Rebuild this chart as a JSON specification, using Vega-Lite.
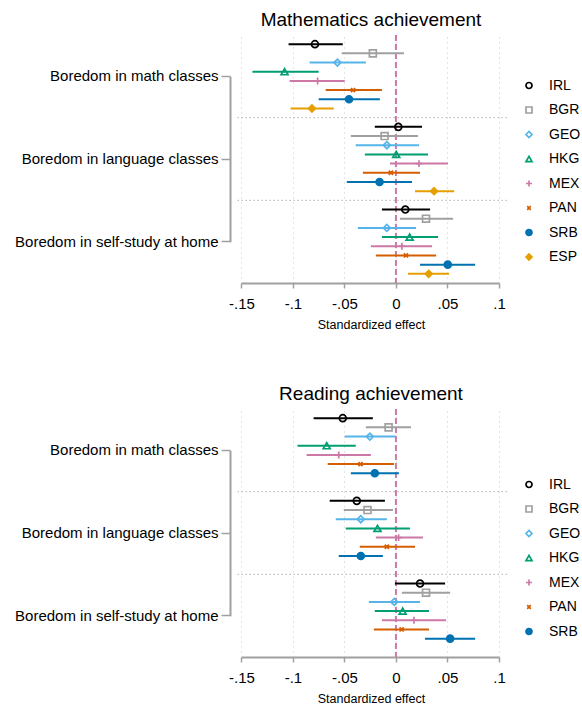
{
  "$schema": "https://vega.github.io/schema/vega-lite/v6.json",
  "padding": {"left": 14, "top": 11, "right": 0, "bottom": 0},
  "background": "white",
  "spacing": 54,
  "datasets": {
    "math": [
      {"group": "Boredom in math classes", "country": "IRL", "est": -0.0786, "lo": -0.1042, "hi": -0.0516},
      {"group": "Boredom in math classes", "country": "BGR", "est": -0.0224, "lo": -0.0526, "hi": 0.0078},
      {"group": "Boredom in math classes", "country": "GEO", "est": -0.0568, "lo": -0.0838, "hi": -0.0292},
      {"group": "Boredom in math classes", "country": "HKG", "est": -0.1081, "lo": -0.1393, "hi": -0.075},
      {"group": "Boredom in math classes", "country": "MEX", "est": -0.076, "lo": -0.1032, "hi": -0.0497},
      {"group": "Boredom in math classes", "country": "PAN", "est": -0.0416, "lo": -0.0682, "hi": -0.0136},
      {"group": "Boredom in math classes", "country": "SRB", "est": -0.0455, "lo": -0.075, "hi": -0.0156},
      {"group": "Boredom in math classes", "country": "ESP", "est": -0.0815, "lo": -0.1023, "hi": -0.0604},
      {"group": "Boredom in language classes", "country": "IRL", "est": 0.0023, "lo": -0.0205, "hi": 0.0253},
      {"group": "Boredom in language classes", "country": "BGR", "est": -0.011, "lo": -0.0438, "hi": 0.0214},
      {"group": "Boredom in language classes", "country": "GEO", "est": -0.0088, "lo": -0.039, "hi": 0.0224},
      {"group": "Boredom in language classes", "country": "HKG", "est": 0.0003, "lo": -0.0302, "hi": 0.0312},
      {"group": "Boredom in language classes", "country": "MEX", "est": 0.0224, "lo": -0.0058, "hi": 0.0506},
      {"group": "Boredom in language classes", "country": "PAN", "est": -0.0049, "lo": -0.0321, "hi": 0.0234},
      {"group": "Boredom in language classes", "country": "SRB", "est": -0.0159, "lo": -0.0477, "hi": 0.0156},
      {"group": "Boredom in language classes", "country": "ESP", "est": 0.037, "lo": 0.0185, "hi": 0.0565},
      {"group": "Boredom in self-study at home", "country": "IRL", "est": 0.0091, "lo": -0.0136, "hi": 0.0331},
      {"group": "Boredom in self-study at home", "country": "BGR", "est": 0.0292, "lo": 0.0039, "hi": 0.0555},
      {"group": "Boredom in self-study at home", "country": "GEO", "est": -0.0088, "lo": -0.037, "hi": 0.0195},
      {"group": "Boredom in self-study at home", "country": "HKG", "est": 0.0133, "lo": -0.0136, "hi": 0.0409},
      {"group": "Boredom in self-study at home", "country": "MEX", "est": 0.0058, "lo": -0.0243, "hi": 0.0351},
      {"group": "Boredom in self-study at home", "country": "PAN", "est": 0.0097, "lo": -0.0195, "hi": 0.039},
      {"group": "Boredom in self-study at home", "country": "SRB", "est": 0.0503, "lo": 0.0234, "hi": 0.0769},
      {"group": "Boredom in self-study at home", "country": "ESP", "est": 0.0318, "lo": 0.0117, "hi": 0.0516}
    ],
    "reading": [
      {"group": "Boredom in math classes", "country": "IRL", "est": -0.0516, "lo": -0.0799, "hi": -0.0224},
      {"group": "Boredom in math classes", "country": "BGR", "est": -0.0071, "lo": -0.0292, "hi": 0.0146},
      {"group": "Boredom in math classes", "country": "GEO", "est": -0.0253, "lo": -0.0497, "hi": 0.0},
      {"group": "Boredom in math classes", "country": "HKG", "est": -0.0672, "lo": -0.0955, "hi": -0.039},
      {"group": "Boredom in math classes", "country": "MEX", "est": -0.0555, "lo": -0.0867, "hi": -0.0243},
      {"group": "Boredom in math classes", "country": "PAN", "est": -0.0344, "lo": -0.0662, "hi": -0.0019},
      {"group": "Boredom in math classes", "country": "SRB", "est": -0.0205, "lo": -0.0438, "hi": 0.0029},
      {"group": "Boredom in language classes", "country": "IRL", "est": -0.038, "lo": -0.0643, "hi": -0.0107},
      {"group": "Boredom in language classes", "country": "BGR", "est": -0.0276, "lo": -0.0506, "hi": -0.0029},
      {"group": "Boredom in language classes", "country": "GEO", "est": -0.0341, "lo": -0.0584, "hi": -0.0088},
      {"group": "Boredom in language classes", "country": "HKG", "est": -0.0179, "lo": -0.0487, "hi": 0.0136},
      {"group": "Boredom in language classes", "country": "MEX", "est": 0.0026, "lo": -0.0195, "hi": 0.0263},
      {"group": "Boredom in language classes", "country": "PAN", "est": -0.0088, "lo": -0.0351, "hi": 0.0185},
      {"group": "Boredom in language classes", "country": "SRB", "est": -0.0341, "lo": -0.0555, "hi": -0.0127},
      {"group": "Boredom in self-study at home", "country": "IRL", "est": 0.0234, "lo": -0.001, "hi": 0.0477},
      {"group": "Boredom in self-study at home", "country": "BGR", "est": 0.0292, "lo": 0.0058, "hi": 0.0526},
      {"group": "Boredom in self-study at home", "country": "GEO", "est": -0.0016, "lo": -0.0263, "hi": 0.0234},
      {"group": "Boredom in self-study at home", "country": "HKG", "est": 0.0065, "lo": -0.0205, "hi": 0.0321},
      {"group": "Boredom in self-study at home", "country": "MEX", "est": 0.0175, "lo": -0.0136, "hi": 0.0487},
      {"group": "Boredom in self-study at home", "country": "PAN", "est": 0.0055, "lo": -0.0214, "hi": 0.0321},
      {"group": "Boredom in self-study at home", "country": "SRB", "est": 0.0526, "lo": 0.0282, "hi": 0.0769}
    ]
  },
  "vconcat": [
    {
      "title": "Mathematics achievement",
      "width": 272,
      "height": 248,
      "data": {"name": "math"},
      "layer": [
        {
          "data": {"values": [{"group": "Boredom in language classes"}, {"group": "Boredom in self-study at home"}]},
          "mark": {"type": "rule", "color": "#b4b4b4", "strokeWidth": 1, "strokeDash": [1.5, 2.5]},
          "encoding": {
            "y": {"field": "group", "type": "nominal", "bandPosition": 0, "title": null,
                  "scale": {"domain": ["Boredom in math classes", "Boredom in language classes", "Boredom in self-study at home"], "paddingInner": 0, "paddingOuter": 0}}
          }
        },
        {
          "data": {"values": [{}]},
          "mark": {"type": "rule", "color": "#CC79A7", "strokeWidth": 2, "strokeDash": [6, 3]},
          "encoding": {"x": {"datum": 0}}
        },
        {
          "mark": {"type": "rule", "strokeWidth": 2},
          "encoding": {
            "y": {"field": "group", "type": "nominal", "title": null},
            "yOffset": {"field": "country", "type": "nominal",
                        "scale": {"domain": ["IRL", "BGR", "GEO", "HKG", "MEX", "PAN", "SRB", "ESP"], "paddingInner": 0, "paddingOuter": 0.5}},
            "x": {"field": "lo", "type": "quantitative", "title": "Standardized effect",
                  "scale": {"domain": [-0.1562, 0.1078], "nice": false, "zero": false}},
            "x2": {"field": "hi"},
            "color": {"field": "country", "type": "nominal",
                      "scale": {"domain": ["IRL", "BGR", "GEO", "HKG", "MEX", "PAN", "SRB", "ESP"],
                                "range": ["#000000", "#a0a0a0", "#56B4E9", "#009E73", "#CC79A7", "#D55E00", "#0072B2", "#E69F00"]},
                      "legend": {"orient": "none", "legendX": 287, "legendY": 43.5}}
          }
        },
        {
          "mark": {"type": "point", "size": 48, "strokeWidth": 1.7, "opacity": 1},
          "encoding": {
            "y": {"field": "group", "type": "nominal", "title": null},
            "yOffset": {"field": "country", "type": "nominal"},
            "x": {"field": "est", "type": "quantitative"},
            "color": {"field": "country", "type": "nominal"},
            "fill": {"field": "country", "type": "nominal",
                     "scale": {"domain": ["IRL", "BGR", "GEO", "HKG", "MEX", "PAN", "SRB", "ESP"],
                               "range": ["transparent", "transparent", "transparent", "transparent", "transparent", "transparent", "#0072B2", "#E69F00"]},
                     "legend": {"orient": "none", "legendX": 287, "legendY": 43.5}},
            "shape": {"field": "country", "type": "nominal",
                      "scale": {"domain": ["IRL", "BGR", "GEO", "HKG", "MEX", "PAN", "SRB", "ESP"],
                                "range": ["circle", "square", "diamond", "triangle-up", "M-1,0H1M0,-1V1", "M-0.6,-0.6L0.6,0.6M-0.6,0.6L0.6,-0.6", "circle", "diamond"]},
                      "legend": {"orient": "none", "legendX": 287, "legendY": 43.5}}
          }
        }
      ]
    },
    {
      "title": "Reading achievement",
      "width": 272,
      "height": 248,
      "data": {"name": "reading"},
      "layer": [
        {
          "data": {"values": [{"group": "Boredom in language classes"}, {"group": "Boredom in self-study at home"}]},
          "mark": {"type": "rule", "color": "#b4b4b4", "strokeWidth": 1, "strokeDash": [1.5, 2.5]},
          "encoding": {
            "y": {"field": "group", "type": "nominal", "bandPosition": 0, "title": null,
                  "scale": {"domain": ["Boredom in math classes", "Boredom in language classes", "Boredom in self-study at home"], "paddingInner": 0, "paddingOuter": 0}}
          }
        },
        {
          "data": {"values": [{}]},
          "mark": {"type": "rule", "color": "#CC79A7", "strokeWidth": 2, "strokeDash": [6, 3]},
          "encoding": {"x": {"datum": 0}}
        },
        {
          "mark": {"type": "rule", "strokeWidth": 2},
          "encoding": {
            "y": {"field": "group", "type": "nominal", "title": null},
            "yOffset": {"field": "country", "type": "nominal",
                        "scale": {"domain": ["IRL", "BGR", "GEO", "HKG", "MEX", "PAN", "SRB"], "paddingInner": 0, "paddingOuter": 0.5}},
            "x": {"field": "lo", "type": "quantitative", "title": "Standardized effect",
                  "scale": {"domain": [-0.1562, 0.1078], "nice": false, "zero": false}},
            "x2": {"field": "hi"},
            "color": {"field": "country", "type": "nominal",
                      "scale": {"domain": ["IRL", "BGR", "GEO", "HKG", "MEX", "PAN", "SRB"],
                                "range": ["#000000", "#a0a0a0", "#56B4E9", "#009E73", "#CC79A7", "#D55E00", "#0072B2"]},
                      "legend": {"orient": "none", "legendX": 287, "legendY": 68.5}}
          }
        },
        {
          "mark": {"type": "point", "size": 48, "strokeWidth": 1.7, "opacity": 1},
          "encoding": {
            "y": {"field": "group", "type": "nominal", "title": null},
            "yOffset": {"field": "country", "type": "nominal"},
            "x": {"field": "est", "type": "quantitative"},
            "color": {"field": "country", "type": "nominal"},
            "fill": {"field": "country", "type": "nominal",
                     "scale": {"domain": ["IRL", "BGR", "GEO", "HKG", "MEX", "PAN", "SRB"],
                               "range": ["transparent", "transparent", "transparent", "transparent", "transparent", "transparent", "#0072B2"]},
                     "legend": {"orient": "none", "legendX": 287, "legendY": 68.5}},
            "shape": {"field": "country", "type": "nominal",
                      "scale": {"domain": ["IRL", "BGR", "GEO", "HKG", "MEX", "PAN", "SRB"],
                                "range": ["circle", "square", "diamond", "triangle-up", "M-1,0H1M0,-1V1", "M-0.6,-0.6L0.6,0.6M-0.6,0.6L0.6,-0.6", "circle"]},
                      "legend": {"orient": "none", "legendX": 287, "legendY": 68.5}}
          }
        }
      ]
    }
  ],
  "resolve": {"scale": {"color": "independent", "fill": "independent", "shape": "independent"}},
  "config": {
    "font": "Liberation Sans",
    "view": {"stroke": null},
    "title": {"fontSize": 19, "fontWeight": "normal", "color": "#000000", "anchor": "middle", "offset": 4},
    "axis": {"labelColor": "#000000", "titleColor": "#000000", "domainColor": "#a0a0a0", "tickColor": "#a0a0a0", "domainWidth": 2, "tickWidth": 1.5},
    "axisX": {
      "values": [-0.15, -0.1, -0.05, 0, 0.05, 0.1],
      "labelExpr": "datum.value === 0 ? '0' : (datum.value < 0 ? '-' : '') + replace(format(abs(datum.value), '.2~f'), '0.', '.')",
      "labelFontSize": 15, "labelPadding": 8, "tickSize": 5,
      "titleFontSize": 12.5, "titleFontWeight": "normal", "titlePadding": 7,
      "grid": true, "gridColor": "#c8c8c8", "gridDash": [1, 4], "gridWidth": 1,
      "domainDash": [0, 6.4, 257.6, 8],
      "labelFlush": false
    },
    "axisY": {
      "grid": false, "offset": 5, "tickSize": 9, "labelPadding": 3, "labelFontSize": 15, "labelLimit": 400,
      "domainDash": [0, 41.33, 165.33, 41.33]
    },
    "legend": {
      "title": null,
      "labelFontSize": 14, "labelColor": "#000000", "symbolSize": 36, "symbolStrokeWidth": 1.7,
      "labelOffset": 13, "rowPadding": 10.5, "padding": 0, "symbolOpacity": 1
    }
  }
}
